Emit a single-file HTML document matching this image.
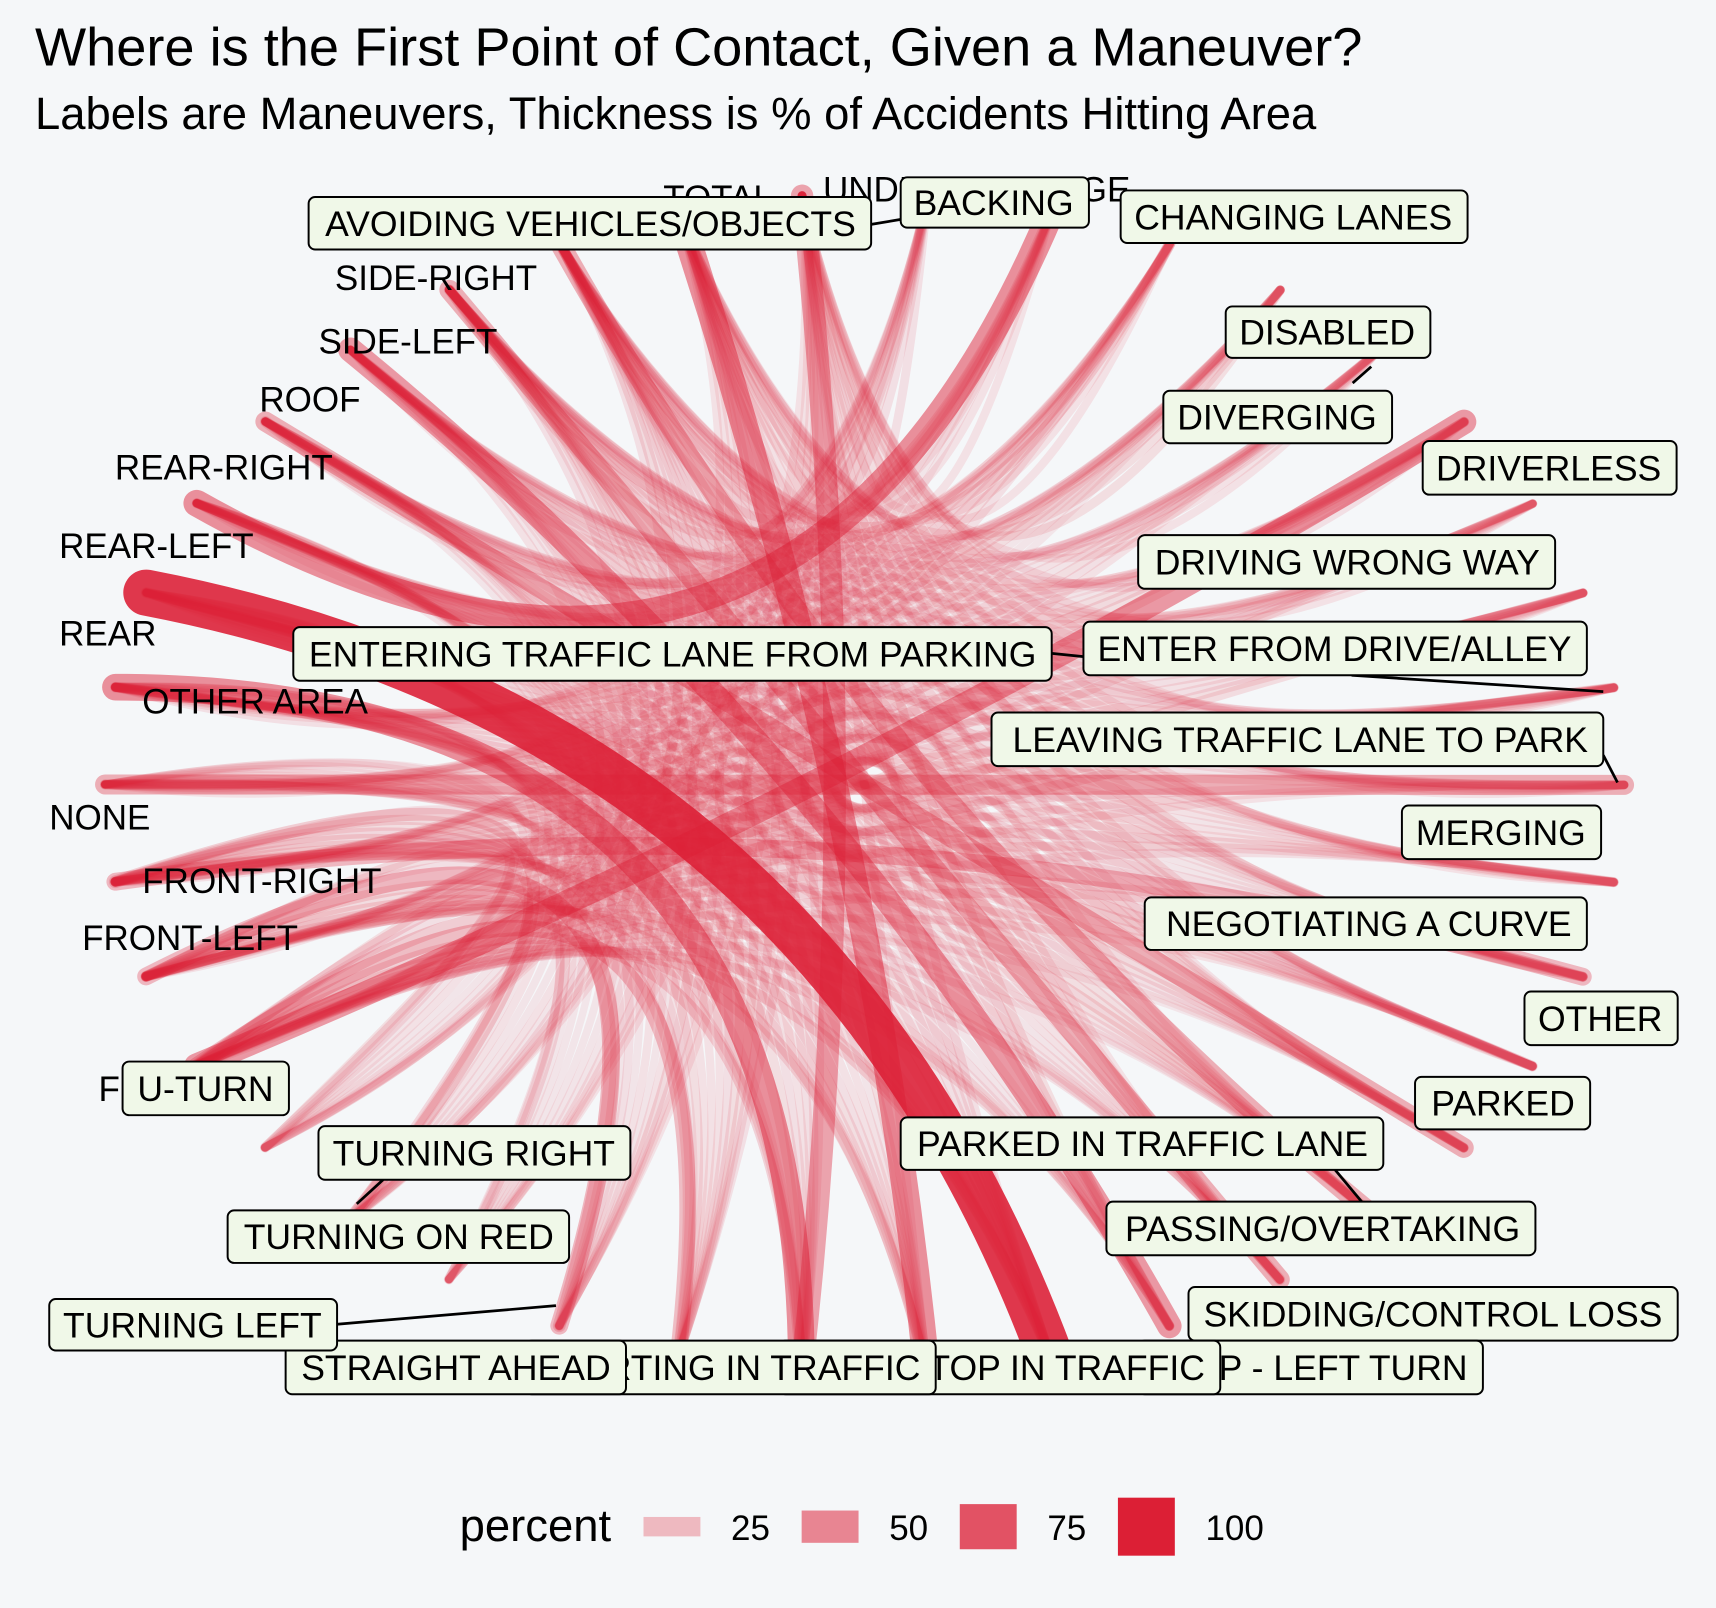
<!DOCTYPE html>
<html><head><meta charset="utf-8"><style>
html,body{margin:0;padding:0;background:#f5f7f9;}
svg{display:block;font-family:"Liberation Sans",Arial,sans-serif;}
</style></head><body>
<svg id="chart" width="1716" height="1608" viewBox="0 0 1568 1469.3" xmlns="http://www.w3.org/2000/svg">
<rect x="0" y="0" width="1568" height="1469.3" fill="#f5f7f9"/>
<text x="32" y="60" font-size="49.5" fill="#000">Where is the First Point of Contact, Given a Maneuver?</text>
<text x="32" y="118" font-size="41.5" fill="#000">Labels are Maneuvers, Thickness is % of Accidents Hitting Area</text>
<g id="edges"></g>
<g id="area-labels" font-size="32" fill="#000">
<text x="90" y="1006">FRONT</text>
<text x="75" y="868">FRONT-LEFT</text>
<text x="130" y="816">FRONT-RIGHT</text>
<text x="45" y="758">NONE</text>
<text x="130" y="652">OTHER AREA</text>
<text x="54" y="590">REAR</text>
<text x="54" y="510">REAR-LEFT</text>
<text x="105" y="438">REAR-RIGHT</text>
<text x="237" y="376">ROOF</text>
<text x="291" y="323">SIDE-LEFT</text>
<text x="306" y="265">SIDE-RIGHT</text>
<text x="606" y="192">TOTAL</text>
<text x="752" y="184">UNDERCARRIAGE</text>
</g>
<g id="leaders" stroke="#000" stroke-width="2.5" fill="none">
<line x1="796" y1="205" x2="826" y2="200"/>
<line x1="1253" y1="335" x2="1236" y2="350"/>
<line x1="961" y1="597" x2="990" y2="600"/>
<line x1="1235" y1="617" x2="1465" y2="632"/>
<line x1="1465" y1="690" x2="1478" y2="715"/>
<line x1="1220" y1="1069" x2="1250" y2="1105"/>
<line x1="308" y1="1210" x2="508" y2="1193"/>
<line x1="350" y1="1078" x2="326" y2="1100"/>
</g>
<g id="boxes"></g>
<g id="legend"></g>
</svg>
<script>
const areas = ["FRONT","FRONT-LEFT","FRONT-RIGHT","NONE","OTHER AREA","REAR","REAR-LEFT","REAR-RIGHT","ROOF","SIDE-LEFT","SIDE-RIGHT","TOTAL","UNDERCARRIAGE"];
const maneuvers = ["AVOIDING VEHICLES/OBJECTS","BACKING","CHANGING LANES","DISABLED","DIVERGING","DRIVERLESS","DRIVING WRONG WAY","ENTER FROM DRIVE/ALLEY","ENTERING TRAFFIC LANE FROM PARKING","LEAVING TRAFFIC LANE TO PARK","MERGING","NEGOTIATING A CURVE","OTHER","PARKED","PARKED IN TRAFFIC LANE","PASSING/OVERTAKING","SKIDDING/CONTROL LOSS","STARTING IN TRAFFIC","STOP - LEFT TURN","STOP IN TRAFFIC","STRAIGHT AHEAD","TURNING LEFT","TURNING ON RED","TURNING RIGHT","U-TURN"];
// percent per area, one value per maneuver (same order as maneuvers)
const pctFront        = [6,3,5,2,4,40,6,7,8,4,5,7,4,2,3,5,8,10,8,12,22,14,5,9,6];
const pctFrontLeft    = [5,2,6,3,5,8,5,6,6,4,6,8,4,2,3,6,7,8,10,7,10,25,5,6,8];
const pctFrontRight   = [5,2,7,2,6,6,4,5,6,5,8,25,4,2,3,7,6,7,6,8,9,6,8,14,5];
const pctNone         = [4,3,3,6,3,8,2,4,4,30,4,3,8,5,4,3,3,4,4,4,3,3,2,3,3];
const pctOtherArea    = [5,4,4,6,4,6,3,5,5,6,4,5,9,6,6,4,5,8,6,45,6,5,3,4,4];
const pctRear         = [2,3,3,6,2,3,2,3,3,3,3,2,5,8,10,3,2,88,5,6,4,3,2,3,2];
const pctRearLeft     = [3,45,4,5,3,3,2,4,4,5,4,3,5,6,6,4,3,8,4,6,4,4,3,3,3];
const pctRearRight    = [3,10,4,5,3,3,2,4,4,5,4,3,5,30,6,4,3,7,4,5,4,3,3,4,3];
const pctRoof         = [4,3,4,5,3,4,4,3,3,3,3,6,5,4,3,4,40,4,3,4,5,4,3,3,4];
const pctSideLeft     = [6,4,10,4,5,4,4,5,5,5,6,5,5,6,6,30,5,5,6,5,6,8,4,5,5];
const pctSideRight    = [5,4,10,4,5,4,4,5,5,5,7,5,5,6,30,10,5,5,5,5,6,5,5,8,5];
const pctTotal        = [5,4,4,6,4,5,5,4,4,4,4,8,6,4,4,4,8,5,45,5,5,4,4,4,4];
const pctUndercarriage= [5,4,4,6,4,5,4,4,4,4,4,6,6,5,4,4,6,5,5,35,5,4,4,4,4];
const areaPcts = [pctFront,pctFrontLeft,pctFrontRight,pctNone,pctOtherArea,pctRear,pctRearLeft,pctRearRight,pctRoof,pctSideLeft,pctSideRight,pctTotal,pctUndercarriage];
const legendValues = [25,50,75,100];

const NS = "http://www.w3.org/2000/svg";
const cx = 790, cy = 717, rx = 694, ry = 540;
const nNodes = areas.length + maneuvers.length;
function nodePos(k){
  const a = (-151.6 - k*360/nNodes) * Math.PI/180;
  return [cx + rx*Math.cos(a), cy - ry*Math.sin(a)];
}
function widthScale(p){ return 6 + 0.41*p; }
function alphaScale(p){ return Math.min(1, 0.06 + 0.94*p/100); }

const edges = [];
areas.forEach((ar,i)=>{
  maneuvers.forEach((m,j)=>{
    edges.push({i:i, j:j, p:areaPcts[i][j], area:ar, man:m});
  });
});
edges.sort((a,b)=>a.p-b.p);
const eg = document.getElementById("edges");
edges.forEach(e=>{
  const [x1,y1] = nodePos(e.i);
  const [x2,y2] = nodePos(areas.length + e.j);
  const mx=(x1+x2)/2, my=(y1+y2)/2;
  const L = Math.hypot(x2-x1,y2-y1)||1;
  const dx=(x2-x1)/L, dy=(y2-y1)/L;
  const vx=cx-mx, vy=cy-my;
  const dot=vx*dx+vy*dy;
  const px=vx-dot*dx, py=vy-dot*dy;
  const qx=mx+1.05*px, qy=my+1.05*py;
  const path=document.createElementNS(NS,"path");
  path.setAttribute("d",`M${x1.toFixed(1)},${y1.toFixed(1)} Q${qx.toFixed(1)},${qy.toFixed(1)} ${x2.toFixed(1)},${y2.toFixed(1)}`);
  path.setAttribute("fill","none");
  path.setAttribute("stroke","#dc1f35");
  path.setAttribute("stroke-linecap","round");
  path.setAttribute("stroke-width",widthScale(e.p).toFixed(1));
  path.setAttribute("stroke-opacity",alphaScale(e.p).toFixed(3));
  
  
  eg.appendChild(path);
});

// maneuver label boxes: [text, x1, y1, x2, y2]  (drawn in order; later overlap earlier)
const boxes = [
 ["AVOIDING VEHICLES/OBJECTS",282,180,796,228],
 ["BACKING",823,162,995,208],
 ["CHANGING LANES",1024,174,1341,222],
 ["DISABLED",1120,280,1307,327],
 ["DIVERGING",1063,357,1272,405],
 ["DRIVERLESS",1300,403,1532,452],
 ["DRIVING WRONG WAY",1040,489,1421,538],
 ["ENTER FROM DRIVE/ALLEY",990,568,1450,617],
 ["ENTERING TRAFFIC LANE FROM PARKING",268,573,961,622],
 ["LEAVING TRAFFIC LANE TO PARK",906,651,1465,700],
 ["MERGING",1281,736,1463,785],
 ["NEGOTIATING A CURVE",1046,820,1450,868],
 ["OTHER",1393,906,1533,955],
 ["PARKED",1293,984,1453,1032],
 ["PARKED IN TRAFFIC LANE",823,1021,1264,1069],
 ["PASSING/OVERTAKING",1011,1098,1403,1147],
 ["SKIDDING/CONTROL LOSS",1086,1176,1533,1225],
 ["STOP - LEFT TURN",1040,1225,1355,1274],
 ["STOP IN TRAFFIC",712,1225,1115,1274],
 ["STARTING IN TRAFFIC",480,1225,855,1274],
 ["STRAIGHT AHEAD",261,1225,572,1274],
 ["TURNING LEFT",45,1187,308,1234],
 ["TURNING ON RED",208,1106,520,1154],
 ["TURNING RIGHT",291,1029,576,1078],
 ["U-TURN",112,970,264,1019]
];
const bg = document.getElementById("boxes");
boxes.forEach(b=>{
  const g=document.createElementNS(NS,"g");
  
  
  const r=document.createElementNS(NS,"rect");
  r.setAttribute("x",b[1]); r.setAttribute("y",b[2]);
  r.setAttribute("width",b[3]-b[1]); r.setAttribute("height",b[4]-b[2]);
  r.setAttribute("rx",6); r.setAttribute("fill","#f0f8e8");
  r.setAttribute("stroke","#000"); r.setAttribute("stroke-width","1.8");
  g.appendChild(r);
  const t=document.createElementNS(NS,"text");
  t.setAttribute("x",b[3]-14); t.setAttribute("y",(b[2]+b[4])/2+11.5);
  t.setAttribute("text-anchor","end"); t.setAttribute("font-size","32.5");
  t.textContent=b[0];
  g.appendChild(t);
  bg.appendChild(g);
});

// legend
const lg=document.getElementById("legend");
const lt=document.createElementNS(NS,"text");
lt.setAttribute("x",420); lt.setAttribute("y",1408); lt.setAttribute("font-size","41.5");
lt.textContent="percent";


lg.appendChild(lt);
legendValues.forEach((v,i)=>{
  const x0=588+i*144.5;
  const h=widthScale(v)*1.0+ (v/100)*6;
  const r=document.createElementNS(NS,"rect");
  r.setAttribute("x",x0); r.setAttribute("y",1395-h/2);
  r.setAttribute("width",52); r.setAttribute("height",h);
  r.setAttribute("fill","#dc1f35"); r.setAttribute("fill-opacity",Math.min(1,0.05+0.95*v/100).toFixed(3));
  
  
  lg.appendChild(r);
  const t=document.createElementNS(NS,"text");
  t.setAttribute("x",x0+80); t.setAttribute("y",1407); t.setAttribute("font-size","32");
  t.textContent=String(v);
  
  
  lg.appendChild(t);
});
</script>
</body></html>
